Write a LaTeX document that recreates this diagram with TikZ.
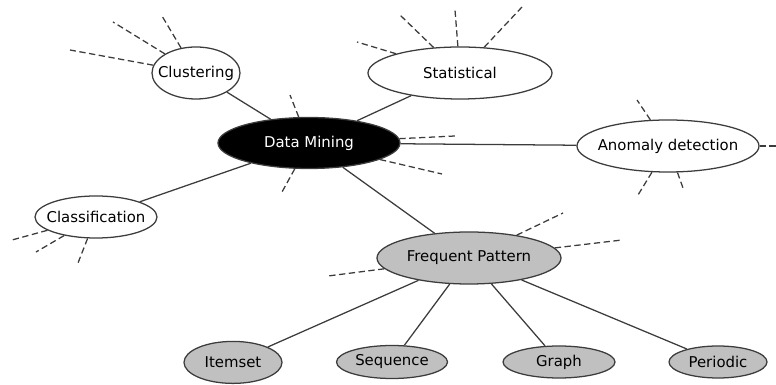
\documentclass[tikz,border=0pt]{standalone}
\usepackage{fontspec}
\setmainfont{DejaVu Sans}
\usetikzlibrary{shapes.geometric}
\definecolor{edgegray}{RGB}{60,60,60}
\definecolor{patgray}{RGB}{192,192,192}
\tikzset{
  topic/.style={ellipse, draw=edgegray, line width=0.9pt, inner xsep=-6pt, inner ysep=0pt, font=\fontsize{10.6}{12}\selectfont},
  link/.style={edgegray, line width=0.9pt},
  stub/.style={edgegray, line width=0.9pt, dash pattern=on 4.5pt off 2.5pt}
}
\begin{document}
\begin{tikzpicture}
                            \useasboundingbox (0,0) rectangle (19.4,-9.625);

                            \node[topic, fill=black, text=white, minimum width=4.55cm, minimum height=1.275cm] (dm) at (7.725,-3.575) {Data Mining};
                            \node[topic, fill=white, minimum width=2.2cm, minimum height=1.3cm] (clu) at (4.9,-1.825) {Clustering};
                            \node[topic, fill=white, minimum width=4.6cm, minimum height=1.3cm] (sta) at (11.5,-1.825) {Statistical};
                            \node[topic, fill=white, minimum width=4.55cm, minimum height=1.3cm] (ano) at (16.7,-3.65) {Anomaly detection};
                            \node[topic, fill=white, minimum width=3.05cm, minimum height=1.05cm] (cla) at (2.4,-5.425) {Classification};
                            \node[topic, fill=patgray, minimum width=4.6cm, minimum height=1.3cm] (fp) at (11.725,-6.45) {Frequent Pattern};

                            \node[topic, fill=patgray, minimum width=2.45cm, minimum height=1.05cm] (its) at (5.825,-9.06) {Itemset};
                            \node[topic, fill=patgray, minimum width=2.775cm, minimum height=0.825cm] (seq) at (9.8,-9.05) {Sequence};
                            \node[topic, fill=patgray, minimum width=2.8cm, minimum height=0.8cm] (gra) at (13.975,-9.05) {Graph};
                            \node[topic, fill=patgray, minimum width=2.45cm, minimum height=0.8cm] (per) at (17.95,-9.05) {Periodic};

                            \draw[link] (dm) -- (clu);
                            \draw[link] (dm) -- (sta);
                            \draw[link] (dm) -- (ano);
                            \draw[link] (dm) -- (cla);
                            \draw[link] (dm) -- (fp);

                            \draw[link] (fp) -- (its);
                            \draw[link] (fp) -- (seq);
                            \draw[link] (fp) -- (gra);
                            \draw[link] (fp) -- (per);

                            % loose ends
                            \coordinate (clu1) at (1.75,-1.25);
                            \coordinate (clu2) at (2.825,-0.55);
                            \coordinate (clu3) at (4.05,-0.4);
                            \coordinate (sta1) at (8.925,-1.05);
                            \coordinate (sta2) at (10.0,-0.375);
                            \coordinate (sta3) at (11.375,-0.25);
                            \coordinate (sta4) at (13.05,-0.175);
                            \coordinate (dm1) at (7.25,-2.375);
                            \coordinate (dm2) at (7.05,-4.8);
                            \coordinate (dm3) at (11.05,-4.35);
                            \coordinate (dm4) at (11.375,-3.4);
                            \coordinate (ano1) at (15.925,-2.5);
                            \coordinate (ano2) at (19.4,-3.65);
                            \coordinate (ano3) at (15.95,-4.875);
                            \coordinate (ano4) at (17.075,-4.7);
                            \coordinate (cla1) at (0.3,-6.0);
                            \coordinate (cla2) at (0.9,-6.3);
                            \coordinate (cla3) at (1.95,-6.575);
                            \coordinate (fp1) at (8.2,-6.9);
                            \coordinate (fp2) at (14.075,-5.325);
                            \coordinate (fp3) at (15.55,-6.0);

                            \foreach \e in {clu1,clu2,clu3}
                                \draw[stub] (clu) -- (\e);
                            \foreach \e in {sta1,sta2,sta3,sta4}
                                \draw[stub] (sta) -- (\e);
                            \foreach \e in {dm1,dm2,dm3,dm4}
                                \draw[stub] (dm) -- (\e);
                            \foreach \e in {ano1,ano2,ano3,ano4}
                                \draw[stub] (ano) -- (\e);
                            \foreach \e in {cla1,cla2,cla3}
                                \draw[stub] (cla) -- (\e);
                            \foreach \e in {fp1,fp2,fp3}
                                \draw[stub] (fp) -- (\e);
                        \end{tikzpicture}
\end{document}
